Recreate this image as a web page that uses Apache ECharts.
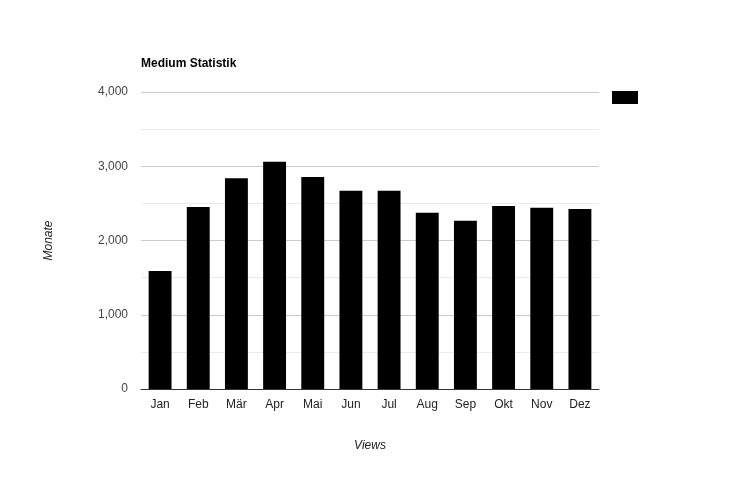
<!DOCTYPE html>
<html>
<head>
<meta charset="utf-8">
<script src="https://cdn.jsdelivr.net/npm/echarts@6/dist/echarts.min.js"></script>
<style>
  html, body { margin: 0; padding: 0; background: #fff; }
  #chart { width: 740px; height: 481px; }
</style>
</head>
<body>
<div id="chart"></div>
<script>
  // Monate und Views
  var months = ['Jan', 'Feb', 'Mär', 'Apr', 'Mai', 'Jun', 'Jul', 'Aug', 'Sep', 'Okt', 'Nov', 'Dez'];
  var views = [1590, 2450, 2840, 3060, 2855, 2670, 2670, 2375, 2265, 2465, 2440, 2425];
  var yTicks = [0, 1000, 2000, 3000, 4000];

  var font = 'Arial, "Liberation Sans", sans-serif';
  var myChart = echarts.init(document.getElementById('chart'));

  myChart.setOption({
    animation: false,
    textStyle: { fontFamily: font },
    title: {
      text: 'Medium Statistik',
      left: 136,
      top: 53,
      textStyle: { fontSize: 12, fontWeight: 'bold', color: '#000', fontFamily: font }
    },
    legend: {
      left: 607,
      top: 86,
      itemWidth: 26,
      itemHeight: 13,
      itemGap: 0,
      data: [{ name: ' ', icon: 'rect' }],
      textStyle: { fontSize: 12, color: '#222' }
    },
    grid: { left: 141, right: 141, top: 92, bottom: 92 },
    xAxis: {
      type: 'category',
      data: months,
      name: 'Views',
      nameLocation: 'middle',
      nameGap: 51,
      nameTextStyle: { fontStyle: 'italic', fontSize: 12, color: '#222' },
      axisLine: { lineStyle: { color: '#333', width: 1 } },
      axisTick: { show: false },
      axisLabel: { color: '#222', fontSize: 12, margin: 10 }
    },
    yAxis: {
      type: 'value',
      min: yTicks[0],
      max: yTicks[yTicks.length - 1],
      interval: 1000,
      name: 'Monate',
      nameLocation: 'middle',
      nameGap: 86,
      nameRotate: 90,
      nameTextStyle: { fontStyle: 'italic', fontSize: 12, color: '#222' },
      axisLine: { show: false },
      axisTick: { show: false },
      axisLabel: {
        color: '#444',
        fontSize: 12,
        margin: 13,
        formatter: function (v) { return v.toLocaleString('en-US'); }
      },
      splitLine: { lineStyle: { color: '#ccc' } },
      minorTick: { show: false, splitNumber: 2 },
      minorSplitLine: { show: true, lineStyle: { color: '#ebebeb' } }
    },
    series: [{
      name: ' ',
      type: 'bar',
      data: views,
      barCategoryGap: '40%',
      itemStyle: { color: '#000' }
    }]
  });
</script>
</body>
</html>
